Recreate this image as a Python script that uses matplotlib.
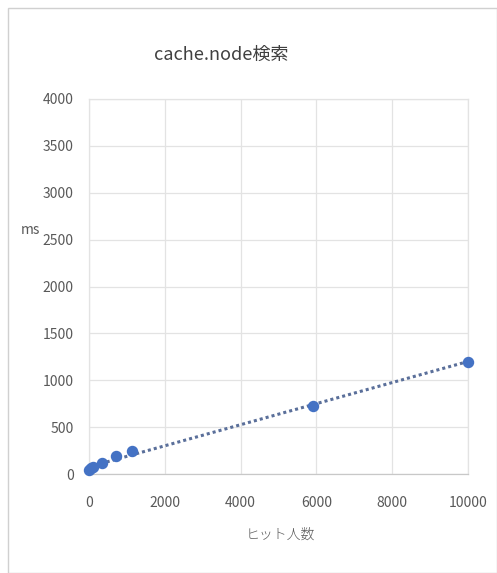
import numpy as np
import matplotlib.pyplot as plt

plt.rcParams['font.family'] = ['Noto Sans CJK JP', 'DejaVu Sans']

# hit count vs. search time (ms)
hits = [10, 50, 100, 340, 710, 1130, 5900, 10000]
ms = [45, 60, 70, 118, 193, 246, 727, 1200]

x_ticks = [0, 2000, 4000, 6000, 8000, 10000]
y_ticks = [0, 500, 1000, 1500, 2000, 2500, 3000, 3500, 4000]

text_col = '#595959'
grid_col = '#e3e3e3'

fig = plt.figure(figsize=(4.97, 5.73), dpi=100)
fig.patch.set_facecolor('white')

# thin frame around the whole chart
fig.add_artist(plt.Rectangle((8 / 497, 0.0), 1 - 8 / 497, 1 - 8 / 573,
                             transform=fig.transFigure, fill=False,
                             edgecolor='#d0d0d0', linewidth=1.0))

ax = fig.add_axes([89 / 497, 1 - 474 / 573, (468 - 89) / 497, (474 - 99) / 573])
ax.set_xlim(0, 10000)
ax.set_ylim(0, 4000)
ax.set_xticks(x_ticks)
ax.set_yticks(y_ticks)
ax.grid(True, color=grid_col, linewidth=0.9)
ax.set_axisbelow(True)
for s in ax.spines.values():
    s.set_color(grid_col)
    s.set_linewidth(0.9)
ax.spines['bottom'].set_color('#c8c8c8')
ax.tick_params(length=0, colors=text_col, labelsize=10)
ax.tick_params(axis='y', pad=11)
ax.tick_params(axis='x', pad=16)

# linear trend line
k, b = np.polyfit(hits, ms, 1)
tx = np.array([0, 10000])
ax.plot(tx, k * tx + b, linestyle=(0, (1, 1)), color='#5a6f9a', linewidth=2.2, zorder=2)
ax.scatter(hits, ms, s=52, color='#4472c4', zorder=3, clip_on=False)

fig.text(221 / 497, 1 - 55 / 573, 'cache.node検索', ha='center', va='center',
         fontsize=13, color='#404040')
fig.text(30 / 497, 1 - 230 / 573, 'ms', ha='center', va='center',
         fontsize=10, color=text_col)
fig.text(280 / 497, 1 - 535 / 573, 'ヒット人数', ha='center', va='center',
         fontsize=10, color=text_col, fontweight='light')

fig.savefig('out.png', dpi=100, facecolor='white')
